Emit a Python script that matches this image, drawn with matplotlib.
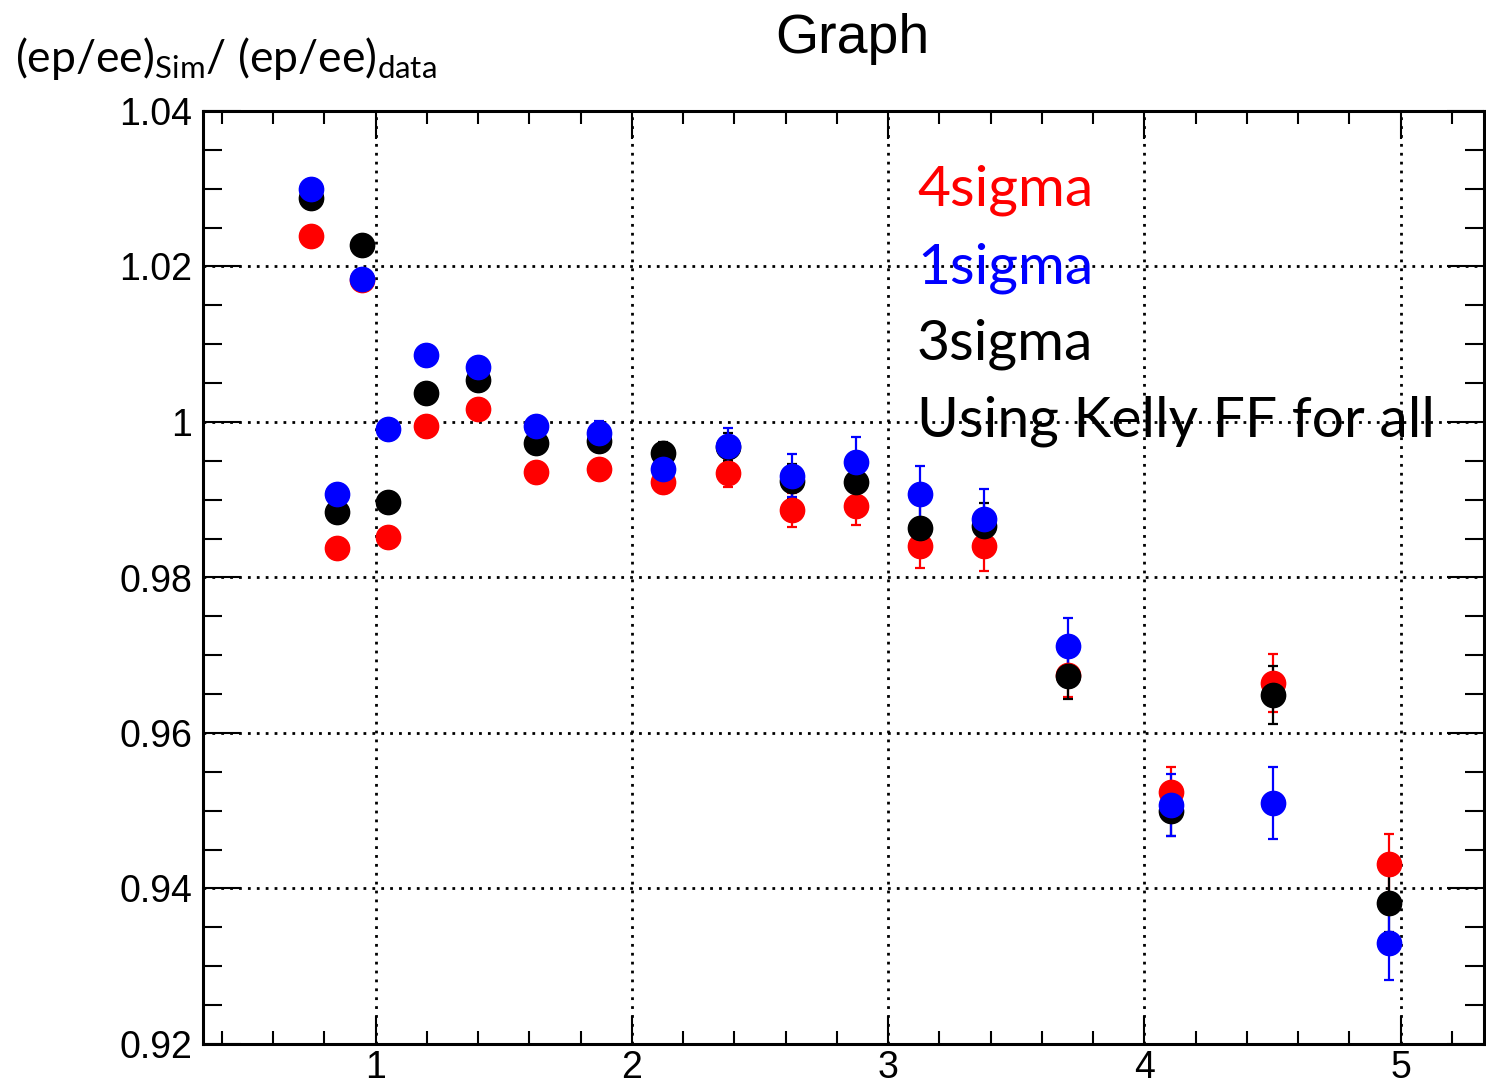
import matplotlib
matplotlib.use("Agg")
import matplotlib.pyplot as plt
from matplotlib.ticker import MultipleLocator
import numpy as np

# bin centres
x = [0.747, 0.848, 0.945, 1.047, 1.195, 1.398, 1.624, 1.873, 2.123,
     2.376, 2.626, 2.875, 3.125, 3.374, 3.702, 4.103, 4.501, 4.953]

# 4sigma
red = [1.0239, 0.9838, 1.0182, 0.9852, 0.9995, 1.0017, 0.9936, 0.9940, 0.9923,
       0.9934, 0.9887, 0.9892, 0.9841, 0.9841, 0.9675, 0.9524, 0.9664, 0.9432]
red_err = [0.0005, 0.0005, 0.0006, 0.0006, 0.0007, 0.0008, 0.0009, 0.0011, 0.0014,
           0.0018, 0.0022, 0.0025, 0.0029, 0.0032, 0.0029, 0.0032, 0.0037, 0.0038]

# 3sigma
black = [1.0288, 0.9884, 1.0228, 0.9897, 1.0037, 1.0054, 0.9973, 0.9976, 0.9960,
         0.9968, 0.9924, 0.9923, 0.9864, 0.9866, 0.9673, 0.9500, 0.9649, 0.9381]
black_err = [0.0005, 0.0005, 0.0006, 0.0006, 0.0007, 0.0008, 0.0009, 0.0011, 0.0014,
             0.0018, 0.0022, 0.0026, 0.0030, 0.0030, 0.0029, 0.0032, 0.0037, 0.0037]

# 1sigma
blue = [1.0300, 0.9907, 1.0184, 0.9991, 1.0086, 1.0071, 0.9995, 0.9986, 0.9940,
        0.9969, 0.9931, 0.9949, 0.9907, 0.9875, 0.9712, 0.9507, 0.9510, 0.9330]
blue_err = [0.0006, 0.0006, 0.0007, 0.0007, 0.0008, 0.0009, 0.0011, 0.0015, 0.0020,
            0.0023, 0.0028, 0.0032, 0.0036, 0.0039, 0.0036, 0.0040, 0.0046, 0.0048]

series = [("4sigma", red, red_err, "#ff0000"),
          ("3sigma", black, black_err, "#000000"),
          ("1sigma", blue, blue_err, "#0000ff")]

W, H = 1486, 1083
fig = plt.figure(figsize=(W / 100, H / 100), dpi=100)
ax = fig.add_axes([203 / W, 1 - 1044 / H, (1484 - 203) / W, (1044 - 111) / H])

for name, vals, errs, col in series:
    ax.errorbar(x, vals, yerr=errs, fmt="o", color=col, ms=17.5, mec=col,
                elinewidth=1.6, capsize=3.5, capthick=1.6, zorder=3)

ax.set_xlim(0.326, 5.325)
ax.set_ylim(0.92, 1.04)
ax.xaxis.set_major_locator(MultipleLocator(1))
ax.xaxis.set_minor_locator(MultipleLocator(0.2))
ax.yaxis.set_major_locator(MultipleLocator(0.02))
ax.yaxis.set_minor_locator(MultipleLocator(0.005))
ax.yaxis.set_major_formatter(plt.FuncFormatter(lambda v, p: "1" if abs(v - 1) < 1e-9 else f"{v:.2f}"))

ax.grid(True, which="major", color="black", linestyle=(0, (1, 2.2)), linewidth=2.0, zorder=1)
for sp in ax.spines.values():
    sp.set_linewidth(2.2)

ax.tick_params(axis="both", which="both", direction="in", top=True, right=True,
               width=1.5, labelsize=27)
ax.tick_params(axis="y", which="major", length=27, pad=8)
ax.tick_params(axis="y", which="minor", length=14)
ax.tick_params(axis="x", which="major", length=20, pad=4)
ax.tick_params(axis="x", which="minor", length=9.5)
for lab in ax.get_xticklabels() + ax.get_yticklabels():
    lab.set_family("Liberation Sans")

fig.text(852 / W, 1 - 53 / H, "Graph", ha="center", va="baseline",
         fontsize=40, family="Liberation Sans")

plt.rcParams["mathtext.default"] = "regular"
fig.text(15 / W, 1 - 72 / H, r"(ep/ee)$_{Sim}$/ (ep/ee)$_{data}$", ha="left",
         va="baseline", fontsize=32, family="Lato")

labels = [("4sigma", "#ff0000", 205), ("1sigma", "#0000ff", 283),
          ("3sigma", "#000000", 360), ("Using Kelly FF for all", "#000000", 437)]
for txt, col, yb in labels:
    fig.text(917 / W, 1 - yb / H, txt, color=col, ha="left", va="baseline",
             fontsize=41, family="Lato", zorder=5)

fig.savefig("out.png", dpi=100)
